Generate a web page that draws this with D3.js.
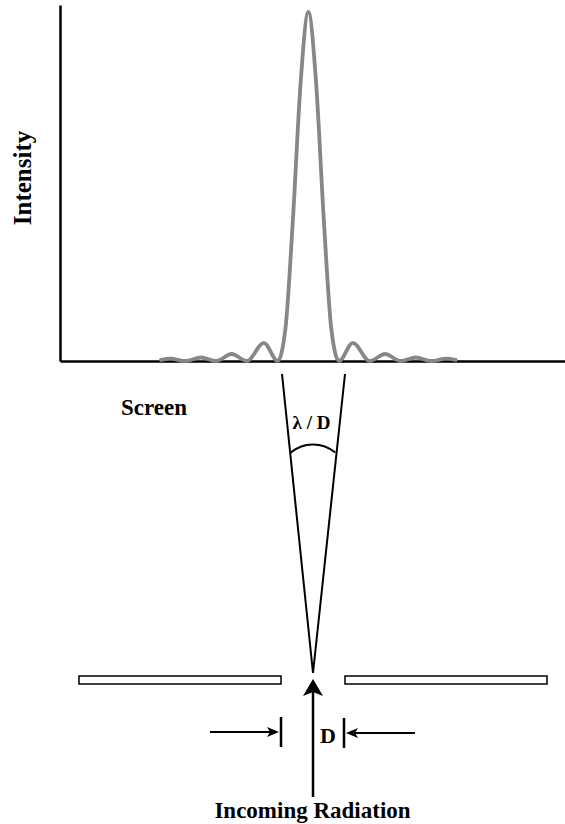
<!DOCTYPE html>
<html>
<head>
<meta charset="utf-8">
<script src="https://cdn.jsdelivr.net/npm/d3@7"></script>
<style>
  body { margin: 0; background: #fff; }
  text { font-family: "Liberation Serif", "DejaVu Serif", serif; font-weight: bold; fill: #000; }
</style>
</head>
<body>
<script>
// diffraction pattern, position in units of lambda/D
const position = [-4.8, -4.5, -4, -3.5, -3, -2.5, -2, -1.45, -1, -0.75, -0.5, -0.25, 0,
                  0.25, 0.5, 0.75, 1, 1.45, 2, 2.5, 3, 3.5, 4, 4.5, 4.8];
const intensity = [0.003, 0.007, 0, 0.01, 0, 0.02, 0, 0.052, 0, 0.09, 0.41, 0.8, 1,
                   0.8, 0.41, 0.09, 0, 0.052, 0, 0.02, 0, 0.01, 0, 0.007, 0.003];

const labels = {
    yAxis: "Intensity",
    screen: "Screen",
    angle: "λ / D",
    width: "D",
    source: "Incoming Radiation"
};

const W = 565, H = 824;

const svg = d3.select("body").append("svg")
    .attr("width", W)
    .attr("height", H);

const x = d3.scaleLinear().domain([-8.09, 8.36]).range([60, 565]);
const y = d3.scaleLinear().domain([0, 1.02]).range([361, 5]);

// axes, no ticks
svg.append("g")
    .attr("transform", `translate(0,${y(0)})`)
    .call(d3.axisBottom(x).ticks(0).tickSizeOuter(0))
    .call(g => g.select(".domain").attr("stroke", "#000").attr("stroke-width", 2.5));

svg.append("g")
    .attr("transform", `translate(${x.range()[0]},0)`)
    .call(d3.axisLeft(y).ticks(0).tickSizeOuter(0))
    .call(g => g.select(".domain").attr("stroke", "#000").attr("stroke-width", 2.5));

const line = d3.line()
    .x((d, i) => x(position[i]))
    .y(d => y(d))
    .curve(d3.curveMonotoneX);

svg.append("path")
    .datum(intensity)
    .attr("d", line)
    .attr("fill", "none")
    .attr("stroke", "#878787")
    .attr("stroke-width", 3.8)
    .attr("stroke-linejoin", "round")
    .attr("stroke-linecap", "round");

svg.append("text")
    .attr("transform", "translate(31,178) rotate(-90)")
    .attr("text-anchor", "middle")
    .style("font-size", "25px")
    .text(labels.yAxis);

// ---- diagram below the screen ----
const apex = [313, 673];
const ink = "#000";

svg.append("line")
    .attr("x1", apex[0]).attr("y1", apex[1]).attr("x2", 282).attr("y2", 374)
    .attr("stroke", ink).attr("stroke-width", 2);
svg.append("line")
    .attr("x1", apex[0]).attr("y1", apex[1]).attr("x2", 345).attr("y2", 374)
    .attr("stroke", ink).attr("stroke-width", 2);

// angle arc
const arcR = 34.6, arcC = [313, 479];
const a0 = Math.atan2(452.7 - arcC[1], 290 - arcC[0]);
const a1 = Math.atan2(452.7 - arcC[1], 335 - arcC[0]);
svg.append("path")
    .attr("d", `M${arcC[0] + arcR * Math.cos(a0)},${arcC[1] + arcR * Math.sin(a0)}
                A${arcR},${arcR} 0 0 1 ${arcC[0] + arcR * Math.cos(a1)},${arcC[1] + arcR * Math.sin(a1)}`)
    .attr("fill", "none").attr("stroke", ink).attr("stroke-width", 2);

svg.append("text")
    .attr("x", 311.5).attr("y", 429)
    .attr("text-anchor", "middle")
    .style("font-size", "19px")
    .text(labels.angle);

svg.append("text")
    .attr("x", 121).attr("y", 415)
    .style("font-size", "23px")
    .text(labels.screen);

// slit plates
svg.append("rect")
    .attr("x", 79).attr("y", 676).attr("width", 202).attr("height", 8)
    .attr("fill", "#fff").attr("stroke", ink).attr("stroke-width", 1.5);
svg.append("rect")
    .attr("x", 345).attr("y", 676).attr("width", 202).attr("height", 8)
    .attr("fill", "#fff").attr("stroke", ink).attr("stroke-width", 1.5);

// incoming arrow
svg.append("line")
    .attr("x1", 313).attr("y1", 797).attr("x2", 313).attr("y2", 690)
    .attr("stroke", ink).attr("stroke-width", 2.5);
svg.append("path")
    .attr("d", "M313,679 L323,696 L313,692 L303,696 Z")
    .attr("fill", ink);

// width markers
svg.append("line")
    .attr("x1", 281).attr("y1", 717).attr("x2", 281).attr("y2", 747)
    .attr("stroke", ink).attr("stroke-width", 2.5);
svg.append("line")
    .attr("x1", 344).attr("y1", 718).attr("x2", 344).attr("y2", 748)
    .attr("stroke", ink).attr("stroke-width", 2.5);

svg.append("line")
    .attr("x1", 210).attr("y1", 732).attr("x2", 272).attr("y2", 732)
    .attr("stroke", ink).attr("stroke-width", 2);
svg.append("path")
    .attr("d", "M279,732 L267,727 L270,732 L267,737 Z")
    .attr("fill", ink);

svg.append("line")
    .attr("x1", 415).attr("y1", 733).attr("x2", 353).attr("y2", 733)
    .attr("stroke", ink).attr("stroke-width", 2);
svg.append("path")
    .attr("d", "M346,733 L358,728 L355,733 L358,738 Z")
    .attr("fill", ink);

svg.append("text")
    .attr("x", 328).attr("y", 743)
    .attr("text-anchor", "middle")
    .style("font-size", "22px")
    .text(labels.width);

svg.append("text")
    .attr("x", 312.5).attr("y", 818)
    .attr("text-anchor", "middle")
    .style("font-size", "23px")
    .text(labels.source);
</script>
</body>
</html>
